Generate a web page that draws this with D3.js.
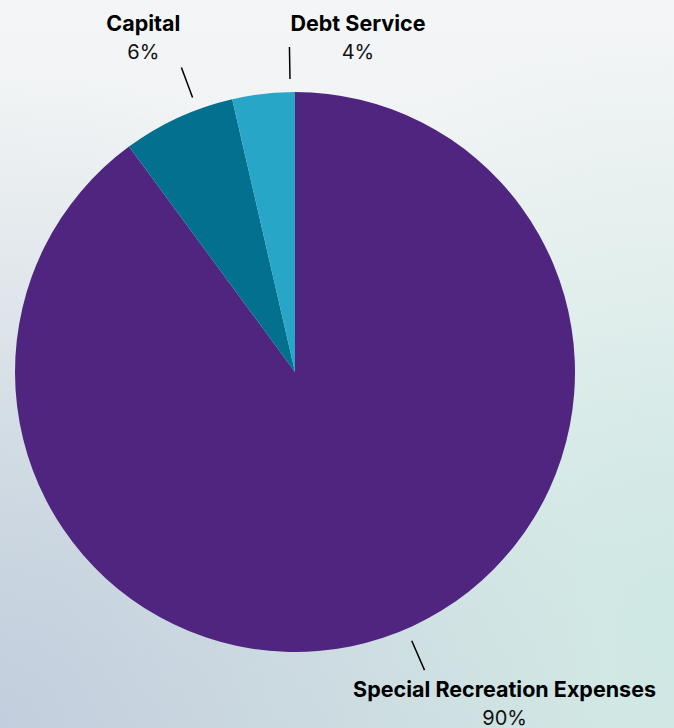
<!DOCTYPE html>
<html>
<head>
<meta charset="utf-8">
<script src="https://cdn.jsdelivr.net/npm/d3@7"></script>
<style>
  html, body { margin: 0; padding: 0; }
  body { width: 674px; height: 728px; overflow: hidden; }
  svg { display: block; }
  .name { font-family: Inter, "Open Sans", sans-serif; font-weight: 700; font-size: 21.5px; fill: #000; }
  .pct  { font-family: Inter, "Open Sans", sans-serif; font-weight: 400; font-size: 20px; fill: #111; }
</style>
</head>
<body>
<svg width="674" height="728"></svg>
<script>
// chart data
var categories = ['Special Recreation Expenses', 'Capital', 'Debt Service'],
    values     = [89.9, 6.5, 3.6],
    pctLabels  = ['90%', '6%', '4%'],
    colors     = ['#4f2580', '#03708f', '#28a6c8'];

// label layout hints (degrees nudged off the mid angle, side of the line)
var labelNudge = [-5.3, 4.2, 5.5],
    labelSide  = [1, -1, 1];

var width  = 674,
    height = 728,
    cx     = 295,
    cy     = 372,
    radius = 280,
    toRad  = Math.PI / 180;

var svg = d3.select('svg');

// background wash
var defs = svg.append('defs');
var base = defs.append('linearGradient').attr('id', 'bg').attr('x1', 0).attr('y1', 0).attr('x2', 0).attr('y2', 1);
base.append('stop').attr('offset', '0%').attr('stop-color', '#f3f5f6');
base.append('stop').attr('offset', '45%').attr('stop-color', '#eef2f2');
base.append('stop').attr('offset', '100%').attr('stop-color', '#d6e4e2');

var blue = defs.append('radialGradient').attr('id', 'bgBlue').attr('cx', 0).attr('cy', 1).attr('r', 0.9);
blue.append('stop').attr('offset', '0%').attr('stop-color', '#c2cedd').attr('stop-opacity', 1);
blue.append('stop').attr('offset', '100%').attr('stop-color', '#c2cedd').attr('stop-opacity', 0);

var green = defs.append('radialGradient').attr('id', 'bgGreen').attr('cx', 1).attr('cy', 0.85).attr('r', 0.8);
green.append('stop').attr('offset', '0%').attr('stop-color', '#cfe8e4').attr('stop-opacity', 1);
green.append('stop').attr('offset', '100%').attr('stop-color', '#cfe8e4').attr('stop-opacity', 0);

svg.append('rect').attr('width', width).attr('height', height).attr('fill', 'url(#bg)');
svg.append('rect').attr('width', width).attr('height', height).attr('fill', 'url(#bgGreen)');
svg.append('rect').attr('width', width).attr('height', height).attr('fill', 'url(#bgBlue)');

var data = categories.map(function(c, i) {
  return { name: c, value: values[i], pct: pctLabels[i], color: colors[i], nudge: labelNudge[i], side: labelSide[i] };
});

var pie = d3.pie().sort(null).value(function(d) { return d.value; });
var arcs = pie(data);

var arc = d3.arc().innerRadius(0).outerRadius(radius);

var g = svg.append('g').attr('transform', 'translate(' + cx + ',' + cy + ')');

g.selectAll('path.slice')
  .data(arcs)
  .enter()
  .append('path')
  .attr('class', 'slice')
  .attr('d', arc)
  .attr('fill', function(d) { return d.data.color; });

function polar(r, a) {
  return [r * Math.sin(a), -r * Math.cos(a)];
}

arcs.forEach(function(d) {
  var a   = (d.startAngle + d.endAngle) / 2 + d.data.nudge * toRad,
      p1  = polar(radius + 13, a),
      p2  = polar(radius + 45, a),
      top = Math.cos(a) > 0;

  g.append('line')
    .attr('x1', p1[0]).attr('y1', p1[1])
    .attr('x2', p2[0]).attr('y2', p2[1])
    .attr('stroke', '#000')
    .attr('stroke-width', 1.5);

  var nameY = top ? -radius - 61 : radius + 45,
      lab   = g.append('g');

  var t1 = lab.append('text').attr('class', 'name').attr('text-anchor', 'middle').attr('y', nameY).text(d.data.name);
  var t2 = lab.append('text').attr('class', 'pct').attr('text-anchor', 'middle').attr('y', nameY + 28).text(d.data.pct);

  var w  = Math.max(t1.node().getComputedTextLength(), t2.node().getComputedTextLength()),
      x  = p2[0] + d.data.side * (w / 2 + 1),
      lo = -cx + 18 + w / 2,
      hi = width - cx - 18 - w / 2;
  x = Math.max(lo, Math.min(hi, x));
  lab.attr('transform', 'translate(' + x + ',0)');
});
</script>
</body>
</html>
